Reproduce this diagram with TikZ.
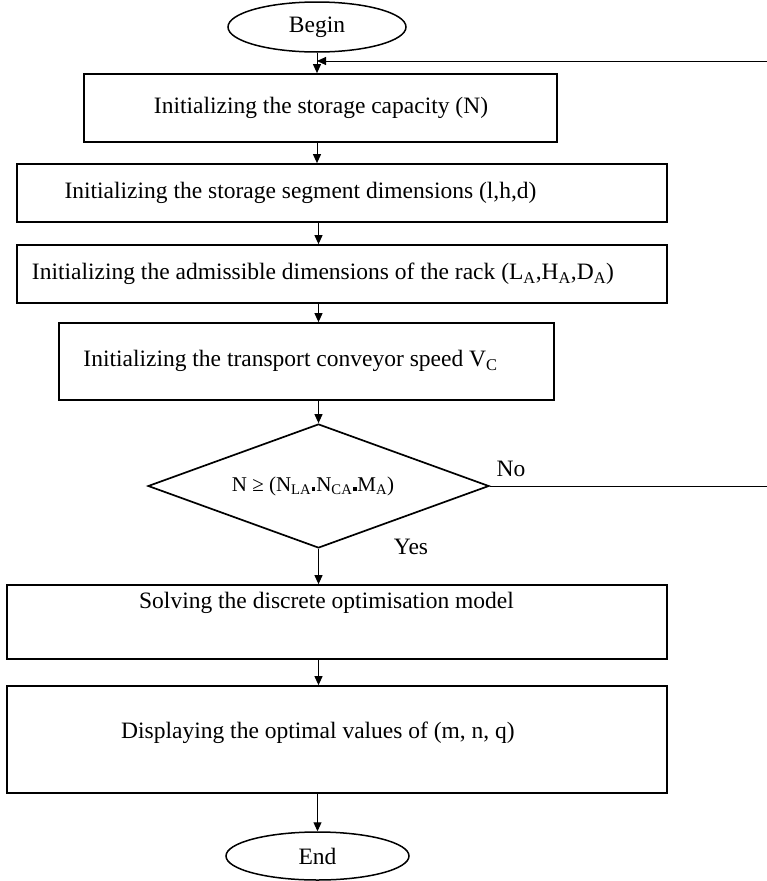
\documentclass[tikz,border=0pt]{standalone}
\usepackage{fontspec}
\setmainfont{Liberation Serif}
\usetikzlibrary{shapes.geometric,arrows.meta,calc}
\newcommand{\sqdot}{\hspace{0.8pt}\rule[0.5pt]{3.4pt}{3.4pt}\hspace{0.8pt}}
\begin{document}
\begin{tikzpicture}[x=1pt,y=-1pt,
  font=\fontsize{23.5}{28}\selectfont,
  boxnode/.style={draw,line width=1.7pt,inner sep=0pt},
  txt/.style={inner sep=0pt,anchor=center},
  ellnode/.style={draw,ellipse,line width=1.5pt,inner sep=0pt},
  arr/.style={line width=1pt,-{Triangle[length=9pt,width=8pt]}},
]
\fill[white] (0,0) rectangle (766,881);
\useasboundingbox (0,0) rectangle (766,881);

\node[ellnode,minimum width=178,minimum height=50] (begin) at (317,27) {Begin};

\node[boxnode,minimum width=473,minimum height=68] (b1) at (320.5,108) {};
\node[txt] (t1) at (321,108) {Initializing the storage capacity (N)};

\node[boxnode,minimum width=650,minimum height=58] (b2) at (342,193) {};
\node[txt] (t2) at (300.5,193) {Initializing the storage segment dimensions (l,h,d)};

\node[boxnode,minimum width=650,minimum height=58] (b3) at (342,274) {};
\node[txt] (t3) at (323,274) {Initializing the admissible dimensions of the rack (L\textsubscript{A},H\textsubscript{A},D\textsubscript{A})};

\node[boxnode,minimum width=495,minimum height=77] (b4) at (306.5,361.5) {};
\node[txt] (t4) at (290.5,361) {Initializing the transport conveyor speed V\textsubscript{C}};

\node[diamond,draw,line width=1.7pt,minimum width=341,minimum height=124,inner sep=0pt,aspect=2.75] (dia) at (318.5,486) {};
\node[txt,font=\fontsize{21}{24}\selectfont] (dt) at (313,486) {N ≥ (N\textsubscript{LA}\sqdot N\textsubscript{CA}\sqdot M\textsubscript{A})};

\node[txt] (no) at (511,469) {No};
\node[txt] (yes) at (411,547) {Yes};

\node[boxnode,minimum width=660,minimum height=74] (b5) at (337,622) {};
\node[txt] (t5) at (326.5,603) {Solving the discrete optimisation model};

\node[boxnode,minimum width=660,minimum height=107] (b6) at (337,739.5) {};
\node[txt] (t6) at (318,733) {Displaying the optimal values of (m, n, q)};

\node[ellnode,minimum width=183,minimum height=48] (fin) at (317.5,856) {End};

\coordinate (fbA) at (772,486);
\coordinate (fbB) at (772,61);

\draw[arr] (begin.south) -- (begin.south |- b1.north);
\draw[arr] (b1.south -| begin.south) -- (b2.north -| begin.south);
\draw[arr] (b2.south -| dia.north) -- (b3.north -| dia.north);
\draw[arr] (b3.south -| dia.north) -- (b4.north -| dia.north);
\draw[arr] (b4.south -| dia.north) -- (dia.north);
\draw[arr] (dia.south) -- (dia.south |- b5.north);
\draw[arr] (b5.south -| dia.south) -- (b6.north -| dia.south);
\draw[arr] (b6.south -| fin.north) -- (fin.north);
\draw[arr] (dia.east) -- (fbA) -- (fbB) -- (fbB -| begin.south);
\end{tikzpicture}
\end{document}
